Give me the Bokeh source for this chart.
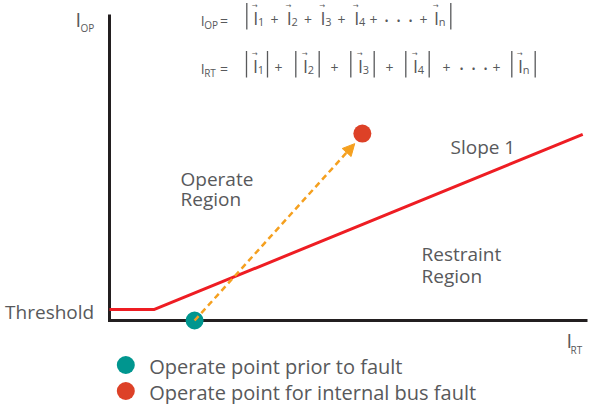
from bokeh.plotting import figure
from bokeh.models import Range1d, ColumnDataSource, Arrow, NormalHead
from bokeh.core.properties import value
from bokeh.embed import file_html
from bokeh.resources import INLINE

# ---------------- data (arbitrary current units) ----------------
axis_irt = [0, 0, 10]
axis_iop = [10, 0, 0]

# bus differential characteristic: threshold, then slope 1
char_irt = [0, 0.94, 9.9]
char_iop = [0.36, 0.36, 6.08]

# operate points
point_irt = [1.78, 5.29]
point_iop = [0.0, 6.11]
point_colors = ["#00968f", "#dd4127"]
legend_labels = ["Operate point prior to fault", "Operate point for internal bus fault"]

# trajectory of the operate point when the fault occurs
arrow_irt = [1.78, 5.13]
arrow_iop = [0.0, 5.78]

region_texts = ["Operate", "Region", "Restraint", "Region", "Slope 1"]
formula_names = ["OP", "RT"]
current_subs = ["1", "2", "3", "4", "n"]

FONT = "Open Sans"
TXT = "#58595b"

# ---------------- layout helpers (reference pixel grid -> data) ----------------
def X(px):
    return (px - 117) / 47.8

def Y(py):
    return (323 - py) / 30.6

p = figure(width=589, height=404, output_backend="svg", toolbar_location=None,
           x_range=Range1d(X(8), X(597)), y_range=Range1d(Y(407), Y(3)),
           x_axis_type=None, y_axis_type=None, min_border=0)
p.grid.visible = False
p.outline_line_color = None
p.background_fill_color = "white"
p.border_fill_color = "white"

def txt(xs, ys, texts, size, align="left", font=FONT, color=TXT):
    p.text(xs, ys, text=texts, text_font=value(font), text_font_size=size,
           text_color=color, text_align=align, text_baseline="middle")

# axes
p.line(axis_irt, axis_iop, line_color="#231f20", line_width=3, line_join="miter")

# characteristic
p.line(char_irt, char_iop, line_color="#ee1d23", line_width=3)

# dashed trajectory arrow (drawn below the dots)
asrc = ColumnDataSource(dict(x0=[arrow_irt[0]], y0=[arrow_iop[0]],
                             x1=[arrow_irt[1]], y1=[arrow_iop[1]]))
p.add_layout(Arrow(source=asrc, x_start="x0", y_start="y0", x_end="x1", y_end="y1",
                   line_color="#f5a01f", line_width=2.5, line_dash="6 4",
                   end=NormalHead(size=12, fill_color="#f5a01f", line_color="#f5a01f"),
                   level="glyph"))

# operate points
p.scatter(point_irt, point_iop, size=18, fill_color=point_colors, line_color=None)

# region labels (y = vertical centre of capitals)
txt([X(188)] * 2 + [X(429)] * 2 + [X(458)],
    [Y(181.5), Y(201.8), Y(256.8), Y(278), Y(149.8)], region_texts, "19px")

# threshold
txt([X(101.7)], [Y(314)], ["Threshold"], "19px", align="right")

# axis titles
txt([X(83), X(574)], [Y(22), Y(343.3)], ["I", "I"], "20px")
txt([X(88), X(578)], [Y(30.5), Y(352.8)], formula_names, "10px")

# ---------------- formulas ----------------
B = [27.0, 75.0]  # bottom of the capitals on the two lines
txt([X(208.3)] * 2, [Y(b - 4.5) for b in B], ["I", "I"], "14px")
txt([X(211.7)] * 2, [Y(b + 0.5) for b in B], formula_names, "10px")
txt([X(231.5)] * 2, [Y(b - 4.5) for b in B], ["=", "="], "14px", align="center")

line_I = [[260.7, 294.3, 328, 361.7, 441.5],
          [260.5, 310.5, 365.5, 420.5, 525.5]]
line_plus = [[282, 315.5, 349, 381, 431],
             [286, 342, 397, 454, 504]]
line_dots = [[394, 406, 418], [469, 481, 493]]
line_bars = [[254.3, 458.3],
             [254, 275, 303.3, 326.7, 358.3, 381.7, 413.3, 436.7, 519.3, 542.7]]

for b, Is, pl, dots, bars in zip(B, line_I, line_plus, line_dots, line_bars):
    txt([X(v) for v in Is], [Y(b - 6.8)] * len(Is), ["I"] * len(Is), "18px")
    txt([X(v + 1.6) for v in Is], [Y(b - 18.5)] * len(Is), ["\u2192"] * len(Is), "7px",
        align="center", font="DejaVu Sans")
    txt([X(v + 4.8) for v in Is], [Y(b - 2.8)] * len(Is), current_subs, "11px")
    txt([X(v) for v in pl], [Y(b - 4.5)] * len(pl), ["+"] * len(pl), "14px", align="center")
    txt([X(v) for v in dots], [Y(b - 4.5)] * len(dots), ["\u2022"] * len(dots), "11px",
        align="center")
    p.segment([X(v) for v in bars], [Y(b + 5)] * len(bars),
              [X(v) for v in bars], [Y(b - 21.5)] * len(bars),
              line_color=TXT, line_width=1.3)

# ---------------- legend ----------------
p.scatter([X(133.3)] * 2, [Y(367.5), Y(393.5)], size=18, fill_color=point_colors, line_color=None)
txt([X(156.7)] * 2, [Y(368.5), Y(394.5)], legend_labels, "20px")

open("out.html", "w").write(file_html(p, INLINE))
